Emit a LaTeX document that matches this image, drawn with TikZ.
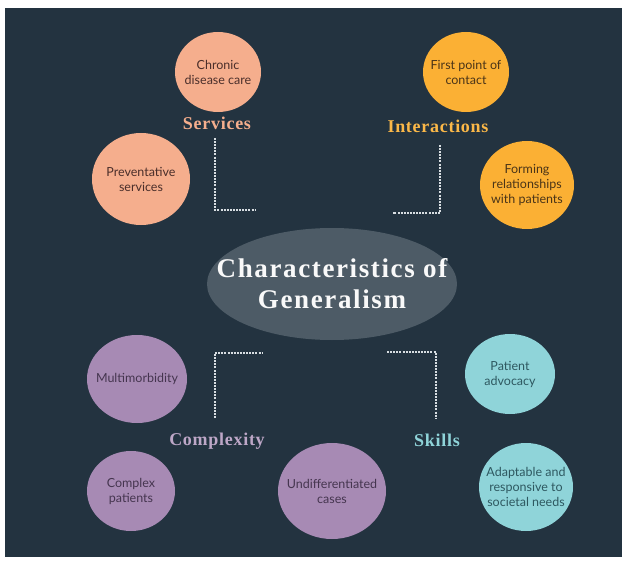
\documentclass[tikz,border=0pt]{standalone}
\usepackage{fontspec}
\setmainfont{Lato}
\newfontfamily\headfont[LetterSpace=4]{Liberation Serif}
\newfontfamily\titlefont[LetterSpace=6]{Liberation Serif}
\usetikzlibrary{shapes.geometric}
\definecolor{bg}{HTML}{233340}
\definecolor{salmon}{HTML}{F5AE8D}
\definecolor{orangec}{HTML}{FBB034}
\definecolor{purplec}{HTML}{A78AB4}
\definecolor{tealc}{HTML}{8FD4D9}
\definecolor{centerc}{HTML}{4D5B66}
\definecolor{salmontxt}{HTML}{4A2E2A}
\definecolor{orangetxt}{HTML}{4A3418}
\definecolor{purpletxt}{HTML}{45354F}
\definecolor{tealtxt}{HTML}{2E5860}
\definecolor{dashc}{HTML}{D8DEE2}
\tikzset{
  bubble/.style={ellipse, inner sep=0pt},
  btext/.style={align=center, inner sep=0pt, font=\fontsize{12.5}{15}\selectfont},
  salmonb/.style={bubble, fill=salmon},
  orangeb/.style={bubble, fill=orangec},
  purpleb/.style={bubble, fill=purplec},
  tealb/.style={bubble, fill=tealc},
  heading/.style={font=\headfont\bfseries\fontsize{18}{20}\selectfont},
  dashline/.style={draw=dashc, line width=1.4pt, dash pattern=on 2pt off 1.1pt}
}
\begin{document}
\begin{tikzpicture}[x=1pt,y=-1pt]
\useasboundingbox (0,0) rectangle (628,561);
\fill[white] (0,0) rectangle (628,561);
\fill[bg] (5,8) rectangle (622,557);
% center
\node[ellipse, fill=centerc, minimum width=250pt, minimum height=112pt, inner sep=0pt] (center) at (332,284) {};
\node[text=white!95!gray, align=center, inner sep=0pt,
  font=\titlefont\bfseries\fontsize{27}{31}\selectfont] (title) at (center.center) {Characteristics of\\Generalism};
% services
\node[salmonb, minimum width=86pt, minimum height=80pt] (chronic) at (218,72) {};
\node[btext, text=salmontxt] (chronict) at (chronic.center) {Chronic\\disease care};
\node[salmonb, minimum width=98pt, minimum height=92pt] (prevent) at (141,179) {};
\node[btext, text=salmontxt] (preventt) at (prevent.center) {Preventative\\services};
\node[heading, text=salmon] (services) at (217,123) {Services};
% interactions
\node[orangeb, minimum width=86pt, minimum height=80pt] (first) at (466,72) {};
\node[btext, text=orangetxt] (firstt) at (first.center) {First point of\\contact};
\node[orangeb, minimum width=94pt, minimum height=88pt] (forming) at (527,185) {};
\node[btext, text=orangetxt] (formingt) at (forming.center) {Forming\\relationships\\with patients};
\node[heading, text=orangec!90!white] (interact) at (438,126) {Interactions};
% complexity
\node[purpleb, minimum width=100pt, minimum height=88pt] (multi) at (137,379) {};
\node[btext, text=purpletxt] (multit) at (multi.center) {Multimorbidity};
\node[purpleb, minimum width=88pt, minimum height=80pt] (complexp) at (131,491) {};
\node[btext, text=purpletxt] (complexpt) at (complexp.center) {Complex\\patients};
\node[purpleb, minimum width=108pt, minimum height=96pt] (undiff) at (332,491) {};
\node[btext, text=purpletxt] (undifft) at (undiff.center) {Undifferentiated\\cases};
\node[heading, text=purplec!75!white] (complexity) at (217,441) {Complexity};
% skills
\node[tealb, minimum width=90pt, minimum height=80pt] (advocacy) at (510,374) {};
\node[btext, text=tealtxt] (advocacyt) at (advocacy.center) {Patient\\advocacy};
\node[tealb, minimum width=94pt, minimum height=88pt] (adapt) at (526,487) {};
\node[btext, text=tealtxt] (adaptt) at (adapt.center) {Adaptable and\\responsive to\\societal needs};
\node[heading, text=tealc] (skills) at (437,440) {Skills};
% dashed connectors
\coordinate (s1) at (215,138); \coordinate (s2) at (215,210); \coordinate (s3) at (256,210);
\draw[dashline] (s1) -- (s2) -- (s3);
\coordinate (i1) at (440,145); \coordinate (i2) at (440,213); \coordinate (i3) at (393,213);
\draw[dashline] (i1) -- (i2) -- (i3);
\coordinate (c1) at (215,418); \coordinate (c2) at (215,353); \coordinate (c3) at (262,353);
\draw[dashline] (c1) -- (c2) -- (c3);
\coordinate (k1) at (387,352); \coordinate (k2) at (436,352); \coordinate (k3) at (436,418);
\draw[dashline] (k1) -- (k2) -- (k3);
\end{tikzpicture}
\end{document}
